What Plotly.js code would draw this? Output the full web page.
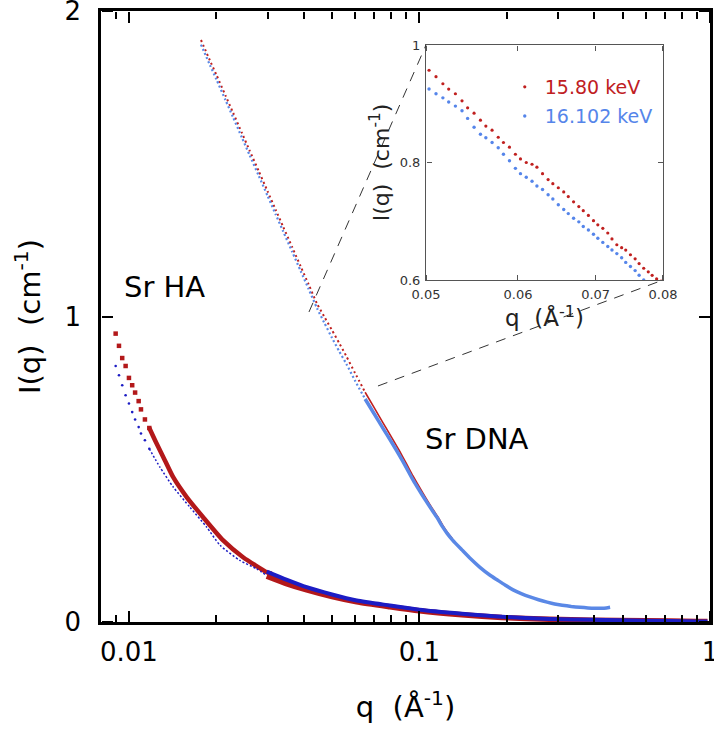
<!DOCTYPE html>
<html><head><meta charset="utf-8">
<script src="https://cdn.plot.ly/plotly-3.0.1.min.js"></script>
<style>html,body{margin:0;padding:0;background:#fff}#chart{width:714px;height:729px}</style>
</head><body><div id="chart"></div><script>
// ---------- Sr HA (low-q detector setting) ----------
var haLowQ      = [0.0090, 0.00924, 0.00948, 0.00974, 0.0100, 0.01026, 0.0105, 0.0108, 0.0110, 0.01135, 0.01175];
var haRedLowI   = [0.944, 0.904, 0.864, 0.838, 0.799, 0.775, 0.751, 0.723, 0.696, 0.663, 0.635];
var haBlueLowI  = [0.838, 0.8075, 0.775, 0.742, 0.715, 0.687, 0.663, 0.638, 0.617, 0.595, 0.567];
var haRedMidQ   = [0.01175, 0.01245, 0.0133, 0.0142, 0.0158, 0.0180, 0.0211, 0.0247, 0.0298, 0.0310];
var haRedMidI   = [0.635, 0.584, 0.529, 0.474, 0.409, 0.343, 0.267, 0.212, 0.163, 0.158];
var haBlueMidQ  = [0.01175, 0.01278, 0.0142, 0.01621, 0.0185, 0.0206, 0.0241, 0.0275, 0.0298];
var haBlueMidI  = [0.567, 0.507, 0.442, 0.376, 0.311, 0.251, 0.2015, 0.174, 0.152];
// ---------- Sr HA (high-q detector setting) ----------
var haHighQ     = [0.0298, 0.035, 0.0409, 0.050, 0.0608, 0.0791, 0.100, 0.140, 0.192, 0.280, 0.395, 0.600, 0.900, 0.98];
var haRedHighI  = [0.150, 0.125, 0.105, 0.083, 0.066, 0.050, 0.037, 0.024, 0.015, 0.009, 0.006, 0.004, 0.002, 0.002];
var haBlueHighI = [0.165, 0.138, 0.114, 0.090, 0.0704, 0.054, 0.040, 0.027, 0.017, 0.010, 0.007, 0.004, 0.002, 0.002];
// ---------- Sr DNA ----------
var dnaLowQ     = [0.0177, 0.0190, 0.0200, 0.0215, 0.0228, 0.0245, 0.0260, 0.0280, 0.0300, 0.0320, 0.0339, 0.0365, 0.0390, 0.0415, 0.0444, 0.0470, 0.0500, 0.0530, 0.0560, 0.0600, 0.0650];
var dnaRedLowI  = [1.905, 1.838, 1.791, 1.723, 1.668, 1.600, 1.544, 1.475, 1.410, 1.349, 1.295, 1.226, 1.164, 1.106, 1.042, 1.000, 0.955, 0.912, 0.870, 0.815, 0.752];
var dnaBlueLowI = [1.890, 1.823, 1.776, 1.708, 1.653, 1.585, 1.529, 1.460, 1.395, 1.334, 1.280, 1.211, 1.149, 1.091, 1.027, 0.980, 0.930, 0.885, 0.845, 0.790, 0.730];
var dnaRedHighQ = [0.065, 0.070, 0.075, 0.080, 0.085, 0.090, 0.095, 0.100, 0.105, 0.110, 0.115, 0.120, 0.1245, 0.130];
var dnaRedHighI = [0.752, 0.700, 0.651, 0.606, 0.563, 0.520, 0.478, 0.441, 0.407, 0.376, 0.348, 0.318, 0.295, 0.272];
var dnaBlueHighQ = [0.065, 0.070, 0.075, 0.080, 0.085, 0.090, 0.095, 0.100, 0.105, 0.110, 0.115, 0.120, 0.1245, 0.130, 0.140, 0.150, 0.1615, 0.175, 0.185, 0.197, 0.210, 0.225, 0.240, 0.257, 0.275, 0.292, 0.310, 0.333, 0.357, 0.380, 0.400, 0.420, 0.440, 0.453];
var dnaBlueHighI = [0.730, 0.680, 0.633, 0.590, 0.548, 0.506, 0.465, 0.430, 0.398, 0.369, 0.342, 0.312, 0.290, 0.268, 0.236, 0.207, 0.179, 0.153, 0.138, 0.121, 0.105, 0.092, 0.082, 0.073, 0.065, 0.059, 0.055, 0.051, 0.048, 0.046, 0.045, 0.045, 0.046, 0.048];
// ---------- Inset (Sr DNA zoom) ----------
var insetRedQ = [0.0503,0.0510,0.0517,0.0523,0.0530,0.0537,0.0543,0.0550,0.0557,0.0563,0.0570,0.0577,0.0583,0.0590,0.0597,0.0603,0.0610,0.0617,0.0623,0.0630,0.0637,0.0643,0.0650,0.0657,0.0663,0.0670,0.0677,0.0683,0.0690,0.0697,0.0703,0.0710,0.0717,0.0723,0.0730,0.0737,0.0743,0.0750,0.0757,0.0763,0.0770,0.0777,0.0783,0.0790,0.0797];
var insetRedI = [0.957,0.946,0.934,0.925,0.917,0.905,0.893,0.884,0.872,0.862,0.855,0.843,0.834,0.826,0.814,0.806,0.800,0.797,0.792,0.781,0.771,0.764,0.757,0.750,0.742,0.733,0.725,0.718,0.710,0.701,0.694,0.688,0.680,0.670,0.660,0.655,0.651,0.643,0.636,0.628,0.620,0.614,0.608,0.602,0.598];
var insetBlueQ = [0.0503,0.0510,0.0517,0.0523,0.0530,0.0537,0.0543,0.0550,0.0557,0.0563,0.0570,0.0577,0.0583,0.0590,0.0597,0.0603,0.0610,0.0617,0.0623,0.0630,0.0637,0.0643,0.0650,0.0657,0.0663,0.0670,0.0677,0.0683,0.0690,0.0697,0.0703,0.0710,0.0717,0.0723,0.0730,0.0737,0.0743,0.0750,0.0757,0.0763,0.0770];
var insetBlueI = [0.925,0.917,0.910,0.903,0.896,0.888,0.875,0.860,0.848,0.842,0.834,0.825,0.814,0.803,0.790,0.781,0.775,0.768,0.760,0.754,0.745,0.738,0.728,0.720,0.713,0.705,0.699,0.691,0.685,0.678,0.671,0.664,0.657,0.651,0.645,0.638,0.630,0.623,0.616,0.608,0.600];
var legendNames = ['15.80 keV', '16.102 keV'];
// zoom box (main axes data coords) and tick labels
var zoomBoxQ = [0.0417, 0.0720];
var zoomBoxI = [0.772, 1.013];
var mainXTicks = [0.01, 0.1, 1];
var mainXTickText = ['0.01', '0.1', '1'];
var mainXMinor = [0.009, 0.02, 0.03, 0.04, 0.05, 0.06, 0.07, 0.08, 0.09, 0.2, 0.3, 0.4, 0.5, 0.6, 0.7, 0.8, 0.9];
var mainYTicks = [0, 1, 2];
var insetXTicks = [0.05, 0.06, 0.07, 0.08];
var insetXTickText = ['0.05', '0.06', '0.07', '0.08'];
var insetYTicks = [0.6, 0.8, 1.0];
var insetYTickText = ['0.6', '0.8', '1'];

var RED = '#b3181a', DBLUE = '#1c1cc4', LBLUE = '#5a88e6', IRED = '#c0201f', IBLUE = '#5585ea';
var FONT = 'DejaVu Sans, Verdana, sans-serif';

// geometry of the two frames (paper fractions)
var MAIN_X = [0, 1], MAIN_Y = [0, 1];
var INSET_X = [0.5337, 0.9228], INSET_Y = [0.5597, 0.9444];
var MAIN_XRANGE = [-2.0962, 0], MAIN_YRANGE = [0, 2];
var INSET_XRANGE = [Math.log10(0.05), Math.log10(0.08)], INSET_YRANGE = [0.6, 1.0];

var traces = [
  {x: haLowQ, y: haRedLowI, mode: 'markers', marker: {symbol: 'square', size: 4.5, color: RED}, showlegend: false},
  {x: haRedMidQ, y: haRedMidI, mode: 'lines', line: {color: RED, width: 4.5, shape: 'spline', smoothing: 0.6}, showlegend: false},
  {x: haLowQ, y: haBlueLowI, mode: 'markers', marker: {size: 2.6, color: DBLUE}, showlegend: false},
  {x: haBlueMidQ, y: haBlueMidI, mode: 'lines', line: {color: DBLUE, width: 1.5, dash: '2px,2px', shape: 'spline', smoothing: 0.6}, showlegend: false},
  {x: haHighQ, y: haRedHighI, mode: 'lines', line: {color: RED, width: 5.5, shape: 'spline', smoothing: 0.6}, showlegend: false},
  {x: haHighQ, y: haBlueHighI, mode: 'lines', line: {color: DBLUE, width: 4, shape: 'spline', smoothing: 0.6}, showlegend: false},
  {x: dnaLowQ, y: dnaRedLowI, mode: 'lines', line: {color: IRED, width: 2, dash: '2px,3px', shape: 'spline', smoothing: 0.6}, showlegend: false},
  {x: dnaRedHighQ, y: dnaRedHighI, mode: 'lines', line: {color: IRED, width: 1.6, shape: 'spline', smoothing: 0.6}, showlegend: false},
  {x: dnaLowQ, y: dnaBlueLowI, mode: 'lines', line: {color: LBLUE, width: 2.2, dash: '2px,2.5px', shape: 'spline', smoothing: 0.6}, showlegend: false},
  {x: dnaBlueHighQ, y: dnaBlueHighI, mode: 'lines', line: {color: LBLUE, width: 3.5, shape: 'spline', smoothing: 0.6}, showlegend: false},
  {x: insetRedQ, y: insetRedI, xaxis: 'x2', yaxis: 'y2', mode: 'markers', name: legendNames[0],
   marker: {size: 3.2, color: IRED}, legend: 'legend'},
  {x: insetBlueQ, y: insetBlueI, xaxis: 'x2', yaxis: 'y2', mode: 'markers', name: legendNames[1],
   marker: {size: 3.4, color: IBLUE}, legend: 'legend2'},
  // empty carriers so the tick-only overlay axes get drawn
  {x: [], y: [], xaxis: 'x3', yaxis: 'y', showlegend: false, hoverinfo: 'skip'},
  {x: [], y: [], xaxis: 'x4', yaxis: 'y', showlegend: false, hoverinfo: 'skip'},
  {x: [], y: [], xaxis: 'x', yaxis: 'y3', showlegend: false, hoverinfo: 'skip'},
  {x: [], y: [], xaxis: 'x', yaxis: 'y4', showlegend: false, hoverinfo: 'skip'},
  {x: [], y: [], xaxis: 'x5', yaxis: 'y2', showlegend: false, hoverinfo: 'skip'},
  {x: [], y: [], xaxis: 'x6', yaxis: 'y2', showlegend: false, hoverinfo: 'skip'},
  {x: [], y: [], xaxis: 'x2', yaxis: 'y5', showlegend: false, hoverinfo: 'skip'},
  {x: [], y: [], xaxis: 'x2', yaxis: 'y6', showlegend: false, hoverinfo: 'skip'}
];

function tickAxis(base, extra) {
  var o = {showline: false, showgrid: false, zeroline: false, showticklabels: false,
           ticks: 'outside', anchor: 'free', automargin: false};
  for (var k in base) o[k] = base[k];
  for (var k2 in extra) o[k2] = extra[k2];
  return o;
}
var mainXTickBase = {type: 'log', range: MAIN_XRANGE, tickmode: 'array', tickvals: mainXTicks,
  ticklen: 11, tickwidth: 2, tickcolor: '#000', overlaying: 'x',
  minor: {tickmode: 'array', tickvals: mainXMinor, ticks: 'outside', ticklen: 7, tickwidth: 2, tickcolor: '#000', showgrid: false}};
var mainYTickBase = {range: MAIN_YRANGE, tickmode: 'array', tickvals: mainYTicks,
  ticklen: 11, tickwidth: 2, tickcolor: '#000', overlaying: 'y'};
var insetXTickBase = {type: 'log', range: INSET_XRANGE, tickmode: 'array', tickvals: insetXTicks,
  ticklen: 5, tickwidth: 1, tickcolor: '#555', overlaying: 'x2'};
var insetYTickBase = {range: INSET_YRANGE, tickmode: 'array', tickvals: insetYTicks,
  ticklen: 5, tickwidth: 1, tickcolor: '#555', overlaying: 'y2'};

var L = 101, R = 4, T = 11, B = 107;
var layout = {
  width: 714, height: 729,
  margin: {l: L, r: R, t: T, b: B},
  paper_bgcolor: '#fff', plot_bgcolor: 'rgba(0,0,0,0)',
  font: {family: FONT, color: '#000'},
  xaxis: {
    type: 'log', range: MAIN_XRANGE, domain: MAIN_X, anchor: 'y',
    showline: true, linecolor: '#000', linewidth: 2.5, mirror: true, ticks: '',
    tickmode: 'array', tickvals: mainXTicks, ticktext: mainXTickText,
    showgrid: false, zeroline: false, tickfont: {size: 26}, ticklabelstandoff: 5, ticklabeloverflow: 'allow',
    title: {text: 'q\u00a0\u00a0(Å<sup>-1</sup>)', font: {size: 29}, standoff: 31}, automargin: false
  },
  yaxis: {
    range: MAIN_YRANGE, domain: MAIN_Y, anchor: 'x',
    showline: true, linecolor: '#000', linewidth: 2.5, mirror: true, ticks: '',
    tickmode: 'array', tickvals: mainYTicks, ticklabeloverflow: 'allow',
    showgrid: false, zeroline: false, tickfont: {size: 26}, ticklabelstandoff: 12,
    title: {text: 'I(q)\u00a0\u00a0(cm<sup>-1</sup>)', font: {size: 29}, standoff: 16}, automargin: false
  },
  xaxis3: tickAxis(mainXTickBase, {side: 'top', position: MAIN_Y[0]}),
  xaxis4: tickAxis(mainXTickBase, {side: 'bottom', position: MAIN_Y[1]}),
  yaxis3: tickAxis(mainYTickBase, {side: 'right', position: MAIN_X[0]}),
  yaxis4: tickAxis(mainYTickBase, {side: 'left', position: MAIN_X[1]}),
  xaxis2: {
    type: 'log', range: INSET_XRANGE, domain: INSET_X, anchor: 'y2',
    showline: true, linecolor: '#555', linewidth: 1.2, mirror: true, ticks: '',
    tickmode: 'array', tickvals: insetXTicks, ticktext: insetXTickText,
    showgrid: false, zeroline: false, tickfont: {size: 13, color: '#333'}, ticklabelstandoff: 2, ticklabeloverflow: 'allow',
    title: {text: 'q\u00a0\u00a0(Å<sup>-1</sup>)', font: {size: 23, color: '#222'}, standoff: 4}, automargin: false
  },
  yaxis2: {
    range: INSET_YRANGE, domain: INSET_Y, anchor: 'x2',
    showline: true, linecolor: '#555', linewidth: 1.2, mirror: true, ticks: '',
    tickmode: 'array', tickvals: insetYTicks, ticktext: insetYTickText,
    showgrid: false, zeroline: false, tickfont: {size: 13, color: '#333'}, ticklabelstandoff: 2, ticklabeloverflow: 'allow',
    title: {text: 'I(q)\u00a0\u00a0(cm<sup>-1</sup>)', font: {size: 22, color: '#222'}, standoff: 3}, automargin: false
  },
  xaxis5: tickAxis(insetXTickBase, {side: 'top', position: INSET_Y[0]}),
  xaxis6: tickAxis(insetXTickBase, {side: 'bottom', position: INSET_Y[1]}),
  yaxis5: tickAxis(insetYTickBase, {side: 'right', position: INSET_X[0]}),
  yaxis6: tickAxis(insetYTickBase, {side: 'left', position: INSET_X[1]}),
  legend: {x: 0.663, y: 0.8756, xanchor: 'left', yanchor: 'middle', bgcolor: 'rgba(0,0,0,0)',
           font: {size: 19, color: IRED, family: FONT}},
  legend2: {x: 0.663, y: 0.828, xanchor: 'left', yanchor: 'middle', bgcolor: 'rgba(0,0,0,0)',
           font: {size: 19, color: IBLUE, family: FONT}},
  annotations: [
    {text: 'Sr HA', xref: 'paper', yref: 'paper', x: 0.105, y: 0.548, xanchor: 'center', yanchor: 'middle', showarrow: false, font: {size: 29}},
    {text: 'Sr DNA', xref: 'paper', yref: 'paper', x: 0.6166, y: 0.2995, xanchor: 'center', yanchor: 'middle', showarrow: false, font: {size: 29}}
  ],
  shapes: [
    {type: 'rect', xref: 'x', yref: 'y', x0: Math.log10(zoomBoxQ[0]), x1: Math.log10(zoomBoxQ[1]),
     y0: zoomBoxI[0], y1: zoomBoxI[1], line: {color: '#555', width: 1.2}},
    {type: 'line', xref: 'paper', yref: 'paper', x0: 0.3415, y0: 0.5074, x1: INSET_X[0], y1: INSET_Y[1],
     line: {color: '#333', width: 1, dash: '10px,8px'}},
    {type: 'line', xref: 'paper', yref: 'paper', x0: 0.4548, y0: 0.3863, x1: INSET_X[1], y1: INSET_Y[0],
     line: {color: '#333', width: 1, dash: '10px,8px'}}
  ]
};

Plotly.newPlot('chart', traces, layout, {displayModeBar: false});
</script></body></html>
